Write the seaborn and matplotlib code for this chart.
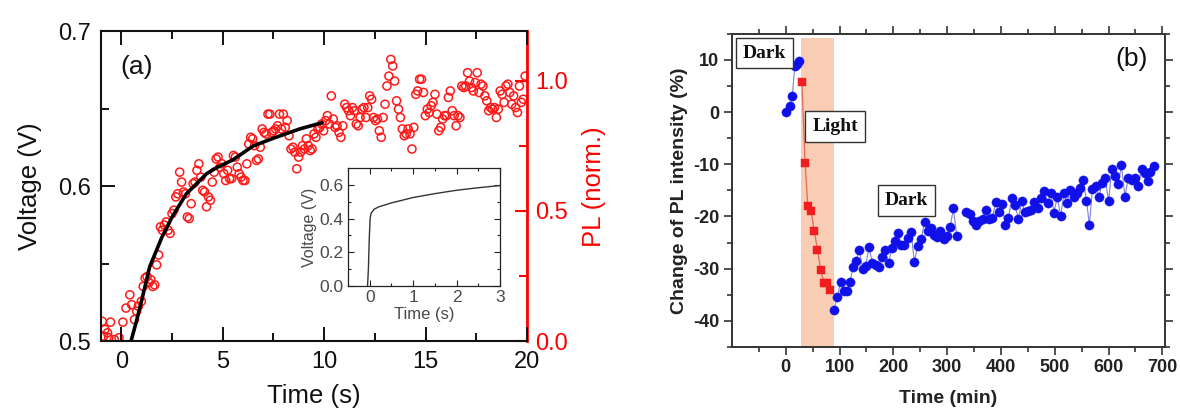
import numpy as np
import pandas as pd
import matplotlib
matplotlib.use("Agg")
import matplotlib.pyplot as plt
import seaborn as sns
from matplotlib.ticker import MultipleLocator, FixedLocator

# ---------------- Panel (a) data ----------------
volt_time = [0.48, 0.75, 1.0, 1.4, 2.0, 2.5, 3.2, 4.2, 4.7, 5.5, 6.5, 7.5, 8.8, 9.9]
volt_value = [0.500, 0.513, 0.526, 0.548, 0.567, 0.580, 0.595, 0.608, 0.612,
              0.617, 0.626, 0.631, 0.637, 0.641]

pl_time_early = [-0.94, -0.87, -0.81, -0.68, -0.62, -0.53, -0.34, -0.11,
                 0.08, 0.23, 0.42, 0.51, 0.65, 0.76, 0.84, 0.99]
pl_early = [0.076, 0.019, 0.045, 0.032, 0.013, 0.073, 0.006, 0.013,
            0.073, 0.127, 0.178, 0.140, 0.083, 0.115, 0.134, 0.153]
# later PL samples, uniformly sampled in time
pl_time_late = np.linspace(1.08, 19.91, 200)
pl_late = [
    0.210, 0.242, 0.248, 0.225, 0.236, 0.210, 0.216, 0.293, 0.331, 0.439,
    0.426, 0.446, 0.458, 0.426, 0.414, 0.490, 0.503, 0.554, 0.566, 0.649,
    0.611, 0.573, 0.566, 0.477, 0.471, 0.528, 0.605, 0.611, 0.656, 0.681,
    0.630, 0.579, 0.573, 0.516, 0.554, 0.541, 0.611, 0.649, 0.700, 0.707,
    0.668, 0.681, 0.643, 0.617, 0.656, 0.624, 0.624, 0.713, 0.707, 0.668,
    0.643, 0.630, 0.617, 0.617, 0.681, 0.757, 0.783, 0.777, 0.751, 0.694,
    0.700, 0.745, 0.815, 0.802, 0.796, 0.872, 0.872, 0.802, 0.808, 0.815,
    0.827, 0.872, 0.815, 0.872, 0.821, 0.847, 0.789, 0.738, 0.745, 0.726,
    0.662, 0.707, 0.726, 0.751, 0.738, 0.777, 0.751, 0.732, 0.738, 0.796,
    0.783, 0.815, 0.821, 0.834, 0.808, 0.847, 0.866, 0.834, 0.942, 0.853,
    0.821, 0.827, 0.802, 0.783, 0.827, 0.910, 0.897, 0.885, 0.866, 0.897,
    0.885, 0.834, 0.827, 0.859, 0.891, 0.897, 0.859, 0.897, 0.942, 0.929,
    0.859, 0.847, 0.853, 0.808, 0.783, 0.859, 0.910, 0.980, 1.018, 1.082,
    1.057, 0.999, 0.923, 0.891, 0.859, 0.815, 0.789, 0.796, 0.815, 0.796,
    0.738, 0.821, 0.948, 0.961, 1.006, 1.006, 0.955, 0.866, 0.891, 0.878,
    0.904, 0.917, 0.948, 0.872, 0.808, 0.821, 0.853, 0.866, 0.866, 0.936,
    0.961, 0.885, 0.866, 0.827, 0.866, 0.859, 0.980, 0.974, 0.980, 1.031,
    0.999, 0.974, 0.961, 0.993, 1.031, 0.955, 0.987, 0.980, 0.942, 0.923,
    0.885, 0.897, 0.891, 0.897, 0.859, 0.891, 0.961, 0.948, 0.917, 0.980,
    0.987, 0.955, 0.910, 0.942, 0.897, 0.878, 0.980, 0.917, 0.929, 1.018,
]

inset_time = [-0.05, -0.03, -0.01, 0.01, 0.03, 0.1, 0.2, 0.5, 1.0, 1.5, 2.0, 2.5, 3.0]
inset_volt = [0.0, 0.10, 0.28, 0.40, 0.43, 0.455, 0.469, 0.493, 0.525, 0.548,
              0.568, 0.583, 0.596]

# ---------------- Panel (b) data ----------------
dark1_time = [0, 7, 12, 17, 21, 25]
dark1_change = [0.0, 1.2, 3.0, 8.9, 9.3, 9.7]

light_time = [30, 36, 41, 47, 53, 59, 65, 71, 77, 83]
light_change = [5.7, -9.8, -18.0, -18.9, -22.8, -26.4, -30.3, -32.7, -32.8, -34.1]

dark2a_time = [89.4, 95.6, 101.8, 108, 114, 119.6, 125, 130.6, 136.8, 143,
               148.5, 154.7, 161, 167, 173, 178.8, 185, 191, 197, 203,
               209, 215, 220.7, 227, 233, 239, 245.5, 251.7, 258, 264,
               269.5, 275.7, 282, 287.4, 293.6, 299.8, 306, 311.5, 317.7]
dark2a_change = [-38.0, -35.5, -32.6, -34.2, -34.2, -32.6, -29.7, -28.6, -26.4, -30.1,
                 -29.5, -25.9, -28.9, -29.3, -29.6, -27.8, -26.4, -29.0, -26.1, -24.7,
                 -23.2, -25.4, -25.4, -24.1, -23.0, -28.7, -25.6, -24.3, -21.1, -22.7,
                 -22.3, -23.6, -24.0, -22.7, -24.4, -23.8, -22.0, -18.4, -23.7]

dark2b_time = [335.5, 341.7, 348, 354, 360, 365.8, 372, 378, 384, 390,
               396, 402, 408, 414, 420, 426, 432.5, 438.7, 444, 450,
               456.6, 462, 468, 474, 480.6, 487, 493, 498.5, 504.7, 511,
               517, 522.6, 528.8, 535, 541, 547, 553, 559, 564.5, 570,
               576, 582, 588.6, 594, 600, 606, 612.6, 618, 624, 630.5,
               636.7, 643, 649, 655, 661.5, 667, 672.5, 678, 684]
dark2b_change = [-19.2, -19.5, -20.9, -21.6, -20.9, -20.4, -18.7, -20.4, -20.3, -17.3,
                 -19.2, -17.7, -21.7, -20.3, -16.5, -17.9, -20.4, -17.1, -19.1, -18.9,
                 -18.7, -17.2, -18.4, -16.5, -15.2, -17.4, -15.5, -19.3, -16.3, -19.9,
                 -15.6, -17.4, -14.9, -16.3, -15.6, -14.6, -13.0, -17.0, -21.6, -14.8,
                 -14.1, -16.2, -13.5, -12.7, -17.1, -11.0, -12.2, -13.8, -10.2, -16.2,
                 -12.6, -13.1, -12.7, -14.1, -11.0, -11.7, -13.3, -11.4, -10.3]

light_span = (28, 89)

# ---------------- style ----------------
sns.set_theme(style="white")
plt.rcParams["font.family"] = ["Liberation Sans", "DejaVu Sans"]
plt.rcParams["axes.linewidth"] = 1.3
plt.rcParams["xtick.bottom"] = True
plt.rcParams["ytick.left"] = True


def style_ticks(axis_obj, which, direction, length, width, color, **kw):
    axis_obj.tick_params(which=which, direction=direction, length=length,
                         width=width, color=color, **kw)


fig = plt.figure(figsize=(11.8, 4.12), dpi=100)
fig.patch.set_facecolor("white")

# ================= Panel (a) =================
ax = fig.add_axes([0.0856, 0.172, 0.361, 0.752])
ax2 = ax.twinx()

pl_df = pd.DataFrame({"t": list(pl_time_early) + list(pl_time_late),
                      "pl": pl_early + pl_late})
sns.scatterplot(data=pl_df, x="t", y="pl", ax=ax2, marker="o", s=34,
                facecolors="none", edgecolor="#ff1a1a", linewidth=1.1,
                legend=False)

vdf = pd.DataFrame({"t": volt_time, "v": volt_value})
sns.lineplot(data=vdf, x="t", y="v", ax=ax, color="black", linewidth=2.6,
             sort=False, estimator=None)
ax.set_zorder(ax2.get_zorder() + 1)
ax.patch.set_visible(False)
ax.set_xlim(-1, 20)
ax.set_ylim(0.5, 0.7)
ax2.set_xlim(-1, 20)
ax2.set_ylim(0, 1.19)

ax.xaxis.set_major_locator(MultipleLocator(5))
ax.xaxis.set_minor_locator(MultipleLocator(2.5))
ax.yaxis.set_major_locator(FixedLocator([0.5, 0.6, 0.7]))
ax.yaxis.set_minor_locator(FixedLocator([0.55, 0.65]))
ax.set_yticklabels(["0.5", "0.6", "0.7"])
ax.set_xlabel("Time (s)", fontsize=18.5, color="#111111", labelpad=8)
ax.set_ylabel("Voltage (V)", fontsize=18.5, color="#111111", labelpad=12)
ax.tick_params(axis="x", which="both", top=True, bottom=True)
ax.tick_params(axis="y", which="both", left=True, right=False)
ax.tick_params(which="both", labelsize=17, labelcolor="#111111", pad=7)
style_ticks(ax, "major", "in", 10, 1.4, "#111111")
style_ticks(ax, "minor", "in", 5.5, 1.4, "#111111")
ax.spines["right"].set_visible(False)
for s in ["left", "top", "bottom"]:
    ax.spines[s].set_color("#111111")
    ax.spines[s].set_linewidth(1.5)
ax.text(0.045, 0.885, "(a)", transform=ax.transAxes, fontsize=19,
        color="#111111", va="center", ha="left")

ax2.yaxis.set_major_locator(FixedLocator([0.0, 0.5, 1.0]))
ax2.yaxis.set_minor_locator(FixedLocator([0.25, 0.75]))
ax2.set_yticklabels(["0.0", "0.5", "1.0"])
ax2.set_ylabel("PL (norm.)", color="#ff0000", fontsize=18.5, labelpad=10)
ax2.tick_params(axis="y", which="both", right=True, left=False,
                labelsize=17, labelcolor="#ff0000", pad=6)
style_ticks(ax2, "major", "in", 9, 1.5, "#ff0000", axis="y")
style_ticks(ax2, "minor", "in", 5.5, 1.5, "#ff0000", axis="y")
ax2.tick_params(axis="x", which="both", bottom=False, top=False,
                labelbottom=False)
ax2.spines["right"].set_color("#ff0000")
ax2.spines["right"].set_linewidth(2.0)
for s in ["left", "top", "bottom"]:
    ax2.spines[s].set_visible(False)

# inset
axi = fig.add_axes([0.2949, 0.3058, 0.1288, 0.2864])
idf = pd.DataFrame({"t": inset_time, "v": inset_volt})
sns.lineplot(data=idf, x="t", y="v", ax=axi, color="#333333", linewidth=1.0,
             sort=False, estimator=None)
axi.set_xlim(-0.5, 3.0)
axi.set_ylim(0.0, 0.7)
axi.xaxis.set_major_locator(MultipleLocator(1))
axi.xaxis.set_minor_locator(MultipleLocator(0.5))
axi.yaxis.set_major_locator(FixedLocator([0.0, 0.2, 0.4, 0.6]))
axi.yaxis.set_minor_locator(FixedLocator([0.1, 0.3, 0.5]))
axi.set_yticklabels(["0.0", "0.2", "0.4", "0.6"])
axi.tick_params(which="both", top=True, right=True, bottom=True, left=True,
                labelsize=12.5, labelcolor="#4a4a4a", pad=3)
style_ticks(axi, "major", "in", 4, 0.8, "#222222")
style_ticks(axi, "minor", "in", 2.5, 0.8, "#222222")
axi.set_xlabel("Time (s)", fontsize=12, color="#4a4a4a", labelpad=1)
axi.set_ylabel("Voltage (V)", fontsize=11.5, color="#4a4a4a", labelpad=2)
for s in axi.spines.values():
    s.set_color("#222222")
    s.set_linewidth(0.9)

# ================= Panel (b) =================
bx = fig.add_axes([0.6203, 0.158, 0.367, 0.760])
bx.axvspan(light_span[0], light_span[1], ymin=0, ymax=0.985,
           color="#f9cdb4", lw=0, zorder=0)

blue_line = "#7f7fdc"
blue_mk = "#1010e8"
red_mk = "#f01e1e"

for tt, cc in [(dark1_time, dark1_change), (dark2a_time, dark2a_change),
               (dark2b_time, dark2b_change)]:
    d = pd.DataFrame({"t": tt, "c": cc})
    sns.lineplot(data=d, x="t", y="c", ax=bx, color=blue_line, linewidth=0.8,
                 sort=False, estimator=None, zorder=2)
    sns.scatterplot(data=d, x="t", y="c", ax=bx, color=blue_mk, s=44,
                    marker="o", edgecolor=blue_mk, linewidth=0.3, zorder=3,
                    legend=False)

ld = pd.DataFrame({"t": light_time, "c": light_change})
sns.lineplot(data=ld, x="t", y="c", ax=bx, color="#e06a5a", linewidth=0.9,
             sort=False, estimator=None, zorder=2)
sns.scatterplot(data=ld, x="t", y="c", ax=bx, color=red_mk, s=28, marker="s",
                edgecolor=red_mk, linewidth=0.3, zorder=3, legend=False)

bx.set_xlim(-100, 705)
bx.set_ylim(-45, 15)
bx.xaxis.set_major_locator(FixedLocator(list(range(0, 701, 100))))
bx.xaxis.set_minor_locator(FixedLocator(list(range(-50, 701, 100))))
bx.set_xticklabels([str(v) for v in range(0, 701, 100)])
bx.yaxis.set_major_locator(FixedLocator([-40, -30, -20, -10, 0, 10]))
bx.yaxis.set_minor_locator(FixedLocator([-45, -35, -25, -15, -5, 5, 15]))
bx.set_yticklabels(["-40", "-30", "-20", "-10", "0", "10"])
bx.tick_params(which="both", top=True, right=True, bottom=True, left=True,
               labeltop=False, labelright=False, labelsize=13,
               labelcolor="#222222", pad=3)
style_ticks(bx, "major", "out", 6, 1.2, "#333333")
style_ticks(bx, "minor", "out", 3.5, 1.2, "#333333")
for lab in bx.get_xticklabels() + bx.get_yticklabels():
    lab.set_fontweight("bold")
bx.set_xlabel("Time (min)", fontsize=14, fontweight="bold", color="#222222",
              labelpad=10)
bx.set_ylabel("Change of PL intensity (%)", fontsize=14, fontweight="bold",
              color="#222222", labelpad=4)
for s in bx.spines.values():
    s.set_color("#333333")
    s.set_linewidth(1.4)

box = dict(boxstyle="square,pad=0.35", fc="white", ec="#333333", lw=1.0)
serif = ["Liberation Serif", "DejaVu Serif"]
bx.text(-40, 11.3, "Dark", family=serif, fontsize=14, fontweight="bold",
        ha="center", va="center", bbox=box, zorder=5, color="#111111")
bx.text(91.5, -2.8, "Light", family=serif, fontsize=14, fontweight="bold",
        ha="center", va="center", bbox=box, zorder=5, color="#111111")
bx.text(224, -16.9, "Dark", family=serif, fontsize=14, fontweight="bold",
        ha="center", va="center", bbox=box, zorder=5, color="#111111")
bx.text(642, 10.1, "(b)", fontsize=19, ha="center", va="center",
        color="#111111")

fig.savefig("out.png", dpi=100, facecolor="white")
